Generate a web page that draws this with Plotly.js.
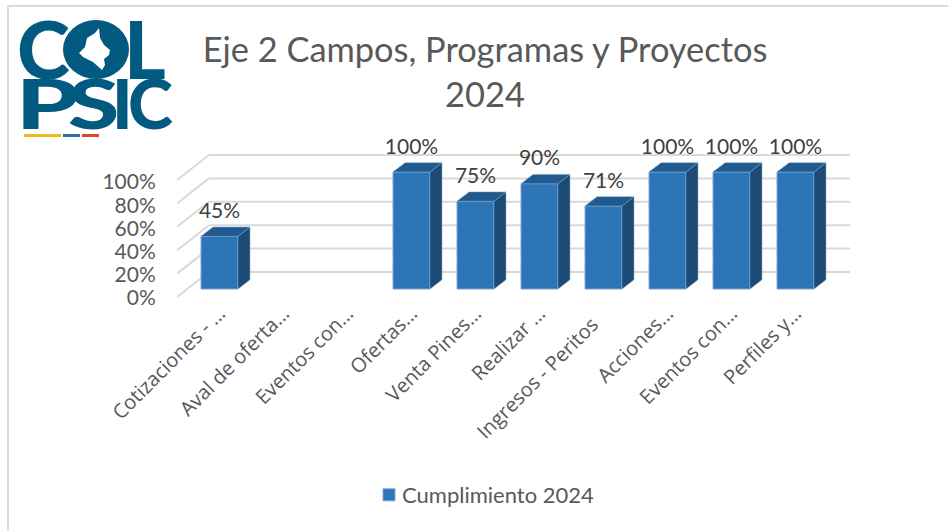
<!DOCTYPE html>
<html>
<head>
<meta charset="utf-8">
<script src="https://cdn.plot.ly/plotly-3.0.1.min.js"></script>
<style>html,body{margin:0;padding:0;background:#fff}#chart{width:948px;height:531px}</style>
</head>
<body>
<div id="chart"></div>
<script>
const categories = ["Cotizaciones - …","Aval de oferta…","Eventos con…","Ofertas…","Venta Pines…","Realizar …","Ingresos - Peritos\u00a0\u00a0\u00a0","Acciones…","Eventos con…","Perfiles y…"];
const cumplimiento = [45,null,null,100,75,90,71,100,100,100];
const yTicks = [0,20,40,60,80,100];
const seriesName = "Cumplimiento 2024";
const titleText = "Eje 2 Campos, Programas y Proyectos<br>2024";

const W=948,H=531;
const plot={l:177,r:850,t:140,b:300};
const pxPerCat=64, pxPerPct=1.17, cat0Px=219.5, zeroPx=297;
const xRange=[(plot.l-cat0Px)/pxPerCat,(plot.r-cat0Px)/pxPerCat];
const yRange=[(zeroPx-plot.b)/pxPerPct,(zeroPx-plot.t)/pxPerPct];
const xIdx=categories.map((_,i)=>i);
const dxPx=v=>v/pxPerCat, dyPx=v=>v/pxPerPct;
const barW=37/pxPerCat, halfW=barW/2;
const barBase=dyPx(8), dX=dxPx(12), dY=dyPx(9.3);
const wallDX=dxPx(32), wallDY=dyPx(25);

const topX=[],topY=[],sideX=[],sideY=[];
cumplimiento.forEach((v,i)=>{
  if(v===null) return;
  const t=v+barBase, L=i-halfW, R=i+halfW;
  topX.push(L,R,R+dX,L+dX,L,null); topY.push(t,t,t+dY,t+dY,t,null);
  sideX.push(R,R+dX,R+dX,R,R,null); sideY.push(barBase,barBase+dY,t+dY,t,barBase,null);
});
const traces=[
 {type:"bar",name:seriesName,x:xIdx,y:cumplimiento,base:barBase,width:barW,
  marker:{color:"#2e75b6",line:{color:"#7aa6d2",width:1}},showlegend:true,hoverinfo:"skip"},
 {type:"scatter",mode:"lines",x:sideX,y:sideY,fill:"toself",fillcolor:"#1c4a75",line:{color:"#7aa6d2",width:0.5},showlegend:false,hoverinfo:"skip"},
 {type:"scatter",mode:"lines",x:topX,y:topY,fill:"toself",fillcolor:"#215a8f",line:{color:"#7aa6d2",width:0.5},showlegend:false,hoverinfo:"skip"},
 {type:"scatter",mode:"text",x:xIdx,y:cumplimiento.map(v=>v===null?null:v+barBase+dyPx(23.5)),
  text:cumplimiento.map(v=>v===null?"":v+"%"),textposition:"middle center",
  textfont:{family:"Lato, sans-serif",size:21,color:"#404040"},showlegend:false,hoverinfo:"skip",cliponaxis:false}
];
const shapes=[];
const gridStyle={color:"#d9d9d9",width:2};
const xLeft=xRange[0], xRight=xRange[1];
yTicks.forEach(t=>{
  shapes.push({type:"line",layer:"below",xref:"x",yref:"y",x0:xLeft,y0:t,x1:xLeft+wallDX,y1:t+wallDY,line:gridStyle});
  shapes.push({type:"line",layer:"below",xref:"x",yref:"y",x0:xLeft+wallDX,y0:t+wallDY,x1:xRight,y1:t+wallDY,line:gridStyle});
});
const pX=x=>(x-plot.l)/(plot.r-plot.l), pY=y=>(plot.b-y)/(plot.b-plot.t);
// chart frame
shapes.push({type:"line",xref:"paper",yref:"paper",x0:pX(7),y0:pY(6),x1:pX(948),y1:pY(6),line:{color:"#d9d9d9",width:2}});
shapes.push({type:"line",xref:"paper",yref:"paper",x0:pX(8),y0:pY(5),x1:pX(8),y1:pY(531),line:{color:"#d9d9d9",width:2}});
// logo stripes
[[24,61,"#f2b91c"],[63,80,"#2f6ca8"],[82,99,"#d9482a"]].forEach(s=>{
  shapes.push({type:"rect",xref:"paper",yref:"paper",x0:pX(s[0]),x1:pX(s[1]),y0:pY(134),y1:pY(137),fillcolor:s[2],line:{width:0}});
});
// logo disc + map
const logoBlue="#035a80";
shapes.push({type:"circle",xref:"paper",yref:"paper",x0:pX(63),x1:pX(129),y0:pY(20),y1:pY(79),fillcolor:logoBlue,line:{width:0}});
const mapPts=[[99,28],[95,33],[87,38],[85,47],[79,53],[83,57],[93,62],[102,70],[105,65],[104,59],[109,55],[110,50],[104,45],[100,38]];
shapes.push({type:"path",xref:"paper",yref:"paper",fillcolor:"#fff",line:{width:0},
  path:"M"+mapPts.map(p=>pX(p[0])+","+pY(p[1])).join("L")+"Z"});
const letter=(t,x,y,s)=>({text:t,xref:"paper",yref:"paper",x:pX(x),y:pY(y),xanchor:"center",yanchor:"middle",showarrow:false,
  font:{family:"Lato, sans-serif",size:s,weight:900,color:logoBlue}});
const annotations=[letter("C",43,48,80),letter("L",145,48,80),letter("P",47,102,68),letter("S",93,102,68),letter("I",122,102,68),letter("C",150,102,68)];

const layout={
 width:W,height:H,autosize:false,
 margin:{l:plot.l,r:W-plot.r,t:plot.t,b:H-plot.b,autoexpand:false},
 paper_bgcolor:"#fff",plot_bgcolor:"rgba(0,0,0,0)",
 title:{text:titleText,x:485/W,xanchor:"center",y:1-62/H,yanchor:"top",yref:"container",
   font:{family:"Lato, sans-serif",size:34.4,color:"#595959"}},
 xaxis:{type:"linear",range:xRange,tickmode:"array",tickvals:xIdx,ticktext:categories,tickangle:-45,
   showgrid:false,zeroline:false,showline:false,ticks:"",ticklabelstandoff:-3,
   tickfont:{family:"Open Sans, sans-serif",size:20,color:"#595959"}},
 yaxis:{range:yRange,tickmode:"array",tickvals:yTicks.map(t=>-0.88+t*0.992),ticktext:yTicks.map(t=>t+"%"),
   showgrid:false,zeroline:false,showline:false,ticks:"outside",ticklen:16,tickcolor:"rgba(0,0,0,0)",
   tickfont:{family:"Lato, sans-serif",size:21,color:"#595959"}},
 bargap:0,barmode:"overlay",
 legend:{orientation:"h",x:pX(362),xanchor:"left",y:pY(495),yanchor:"middle",
   font:{family:"Lato, sans-serif",size:22,color:"#595959"},bgcolor:"rgba(0,0,0,0)"},
 shapes,annotations,showlegend:true
};
Plotly.newPlot("chart",traces,layout,{displayModeBar:false,staticPlot:true}).then(gd=>{
  const sym=gd.querySelector(".legend .legendsymbols");
  if(sym) sym.setAttribute("transform","translate(7,0)");
  const texts=gd.querySelectorAll(".annotation text");
  [[2,1.48],[3,1.37]].forEach(([i,s])=>{
    const el=texts[i]; if(!el) return;
    el.style.transformBox="fill-box"; el.style.transformOrigin="center"; el.style.transform="scaleX("+s+")";
  });
});
</script>
</body>
</html>
